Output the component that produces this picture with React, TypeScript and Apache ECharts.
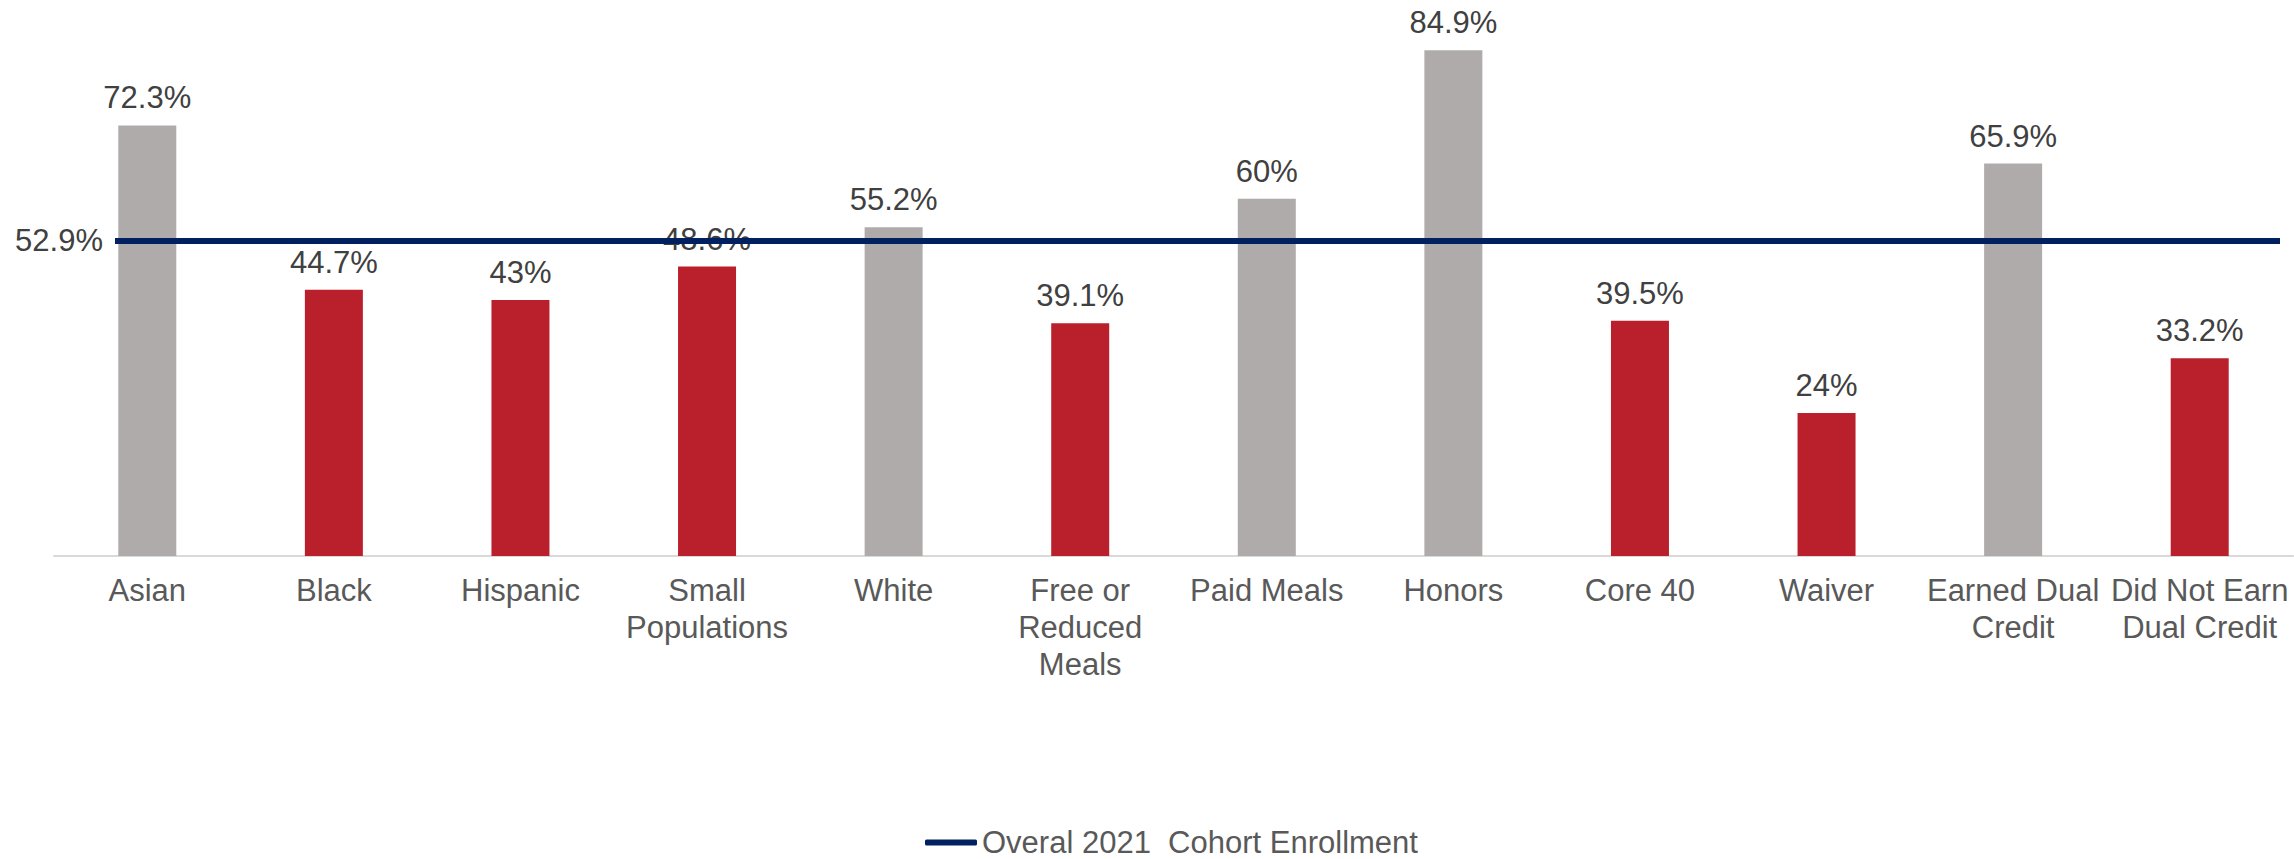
import React, { useEffect, useRef } from "react";
import * as echarts from "echarts";

const categories = [
  "Asian",
  "Black",
  "Hispanic",
  "Small Populations",
  "White",
  "Free or Reduced Meals",
  "Paid Meals",
  "Honors",
  "Core 40",
  "Waiver",
  "Earned Dual Credit",
  "Did Not Earn Dual Credit",
];
const enrollment = [72.3, 44.7, 43, 48.6, 55.2, 39.1, 60, 84.9, 39.5, 24, 65.9, 33.2];
const overall = 52.9;
const overallName = "Overal 2021  Cohort Enrollment";

const wrapped: Record<string, string> = {
  "Small Populations": "Small\nPopulations",
  "Free or Reduced Meals": "Free or\nReduced\nMeals",
  "Earned Dual Credit": "Earned Dual\nCredit",
  "Did Not Earn Dual Credit": "Did Not Earn\nDual Credit",
};

const FONT = "'Liberation Sans', Arial, sans-serif";

export default function App() {
  const ref = useRef<HTMLDivElement>(null);
  useEffect(() => {
    document.body.style.margin = "0";
    const chart = echarts.init(ref.current!, null, { renderer: "svg" });
    chart.setOption({
      animation: false,
      backgroundColor: "#ffffff",
      textStyle: { fontFamily: FONT },
      grid: [
        { left: 54, right: 1, top: 20, bottom: 303 },
        { left: 115, right: 14, top: 20, bottom: 303 },
      ],
      xAxis: [
        {
          type: "category",
          gridIndex: 0,
          data: categories,
          axisLine: { show: true, lineStyle: { color: "#D9D9D9", width: 2 } },
          axisTick: { show: false },
          axisLabel: {
            interval: 0,
            margin: 16,
            fontSize: 31,
            lineHeight: 37,
            color: "#595959",
            fontFamily: FONT,
            formatter: (v: string) => wrapped[v] || v,
          },
        },
        { type: "value", gridIndex: 1, min: 0, max: 1, show: false },
      ],
      yAxis: [
        { type: "value", gridIndex: 0, min: 0, max: 90, show: false },
        { type: "value", gridIndex: 1, min: 0, max: 90, show: false },
      ],
      legend: {
        data: [overallName],
        top: 822,
        left: 920,
        icon: "roundRect",
        itemWidth: 52,
        itemHeight: 6,
        textStyle: { fontSize: 31, color: "#595959", fontFamily: FONT },
      },
      series: [
        {
          type: "bar",
          name: "Enrollment",
          xAxisIndex: 0,
          yAxisIndex: 0,
          data: enrollment,
          barWidth: 58,
          itemStyle: {
            color: (p: any) => (p.value >= overall ? "#AFABAB" : "#BA1F2C"),
          },
          label: {
            show: true,
            position: "top",
            distance: 12,
            fontSize: 31,
            color: "#404040",
            fontFamily: FONT,
            formatter: (p: any) => `${p.value}%`,
          },
          z: 2,
        },
        {
          type: "line",
          name: overallName,
          xAxisIndex: 1,
          yAxisIndex: 1,
          symbol: "circle",
          symbolSize: 0,
          showSymbol: true,
          lineStyle: { color: "#002060", width: 6 },
          itemStyle: { color: "#002060" },
          data: [
            {
              value: [0, overall],
              label: {
                show: true,
                position: "left",
                distance: 12,
                fontSize: 31,
                color: "#404040",
                fontFamily: FONT,
                formatter: `${overall}%`,
              },
            },
            { value: [1, overall] },
          ],
          z: 5,
        },
      ],
    });
    return () => chart.dispose();
  }, []);
  return <div ref={ref} style={{ width: 2294, height: 859 }} />;
}
